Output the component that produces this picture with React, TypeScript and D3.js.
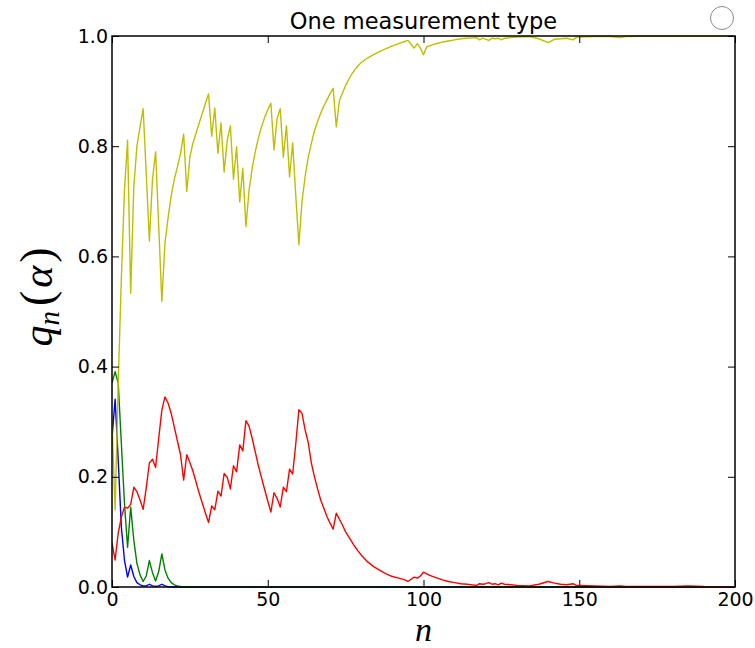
import React, { useEffect, useRef } from 'react'
import * as d3 from 'd3'

// [n, q] pairs
const yellowSeries: [number, number][] = [
  [0, 0.3], [1, 0.14], [2, 0.37], [3, 0.56], [4, 0.72], [5, 0.811], [6, 0.533], [7, 0.726],
  [8, 0.8], [9, 0.835], [10, 0.868], [11, 0.75], [12, 0.628], [13, 0.74], [14, 0.79], [15, 0.655],
  [16, 0.518], [17, 0.624], [18, 0.67], [19, 0.71], [20, 0.74], [21, 0.762], [22, 0.787], [23, 0.822],
  [24, 0.718], [25, 0.78], [26, 0.806], [27, 0.824], [28, 0.842], [29, 0.86], [30, 0.878], [31, 0.895],
  [32, 0.818], [33, 0.869], [34, 0.787], [35, 0.842], [36, 0.753], [37, 0.811], [38, 0.837], [39, 0.74],
  [40, 0.799], [41, 0.699], [42, 0.76], [43, 0.654], [44, 0.72], [45, 0.76], [46, 0.79], [47, 0.815],
  [48, 0.835], [49, 0.852], [50, 0.866], [51, 0.878], [52, 0.793], [53, 0.85], [54, 0.868], [55, 0.78],
  [56, 0.837], [57, 0.744], [58, 0.806], [59, 0.71], [60, 0.621], [61, 0.7], [62, 0.745], [63, 0.78],
  [64, 0.805], [65, 0.828], [66, 0.845], [67, 0.86], [68, 0.873], [69, 0.884], [70, 0.895], [71, 0.905],
  [72, 0.835], [73, 0.883], [74, 0.897], [75, 0.91], [76, 0.921], [77, 0.931], [78, 0.939], [79, 0.946],
  [80, 0.952], [82, 0.96], [84, 0.966], [86, 0.972], [88, 0.977], [90, 0.982], [92, 0.986], [94, 0.99],
  [95, 0.992], [96, 0.985], [97, 0.978], [98, 0.986], [99, 0.978], [100, 0.966], [101, 0.98], [102, 0.982],
  [104, 0.986], [106, 0.989], [108, 0.991], [110, 0.993], [112, 0.995], [114, 0.996], [117, 0.997],
  [118, 0.993], [119, 0.996], [120, 0.994], [121, 0.992], [122, 0.996], [123, 0.995], [124, 0.996],
  [125, 0.993], [126, 0.996], [128, 0.997], [130, 0.998], [134, 0.999], [137, 0.995], [140, 0.988],
  [142, 0.994], [144, 0.995], [146, 0.996], [148, 0.993], [149, 0.997], [150, 0.998], [155, 0.999],
  [160, 0.999], [163, 0.997], [165, 0.999], [170, 0.9995], [180, 0.9995], [200, 0.9997],
]

const redSeries: [number, number][] = [
  [0, 0.08], [1, 0.049], [2, 0.098], [3, 0.127], [4, 0.145], [5, 0.143], [6, 0.15], [7, 0.181],
  [8, 0.173], [9, 0.158], [10, 0.141], [11, 0.18], [12, 0.225], [13, 0.232], [14, 0.217], [15, 0.27],
  [16, 0.321], [17, 0.345], [18, 0.334], [19, 0.315], [20, 0.29], [21, 0.265], [22, 0.24], [23, 0.194],
  [24, 0.24], [25, 0.226], [26, 0.21], [27, 0.19], [28, 0.17], [29, 0.152], [30, 0.134], [31, 0.117],
  [32, 0.147], [33, 0.14], [34, 0.174], [35, 0.165], [36, 0.206], [37, 0.199], [38, 0.178], [39, 0.22],
  [40, 0.209], [41, 0.258], [42, 0.247], [43, 0.302], [44, 0.292], [45, 0.27], [46, 0.245], [47, 0.22],
  [48, 0.198], [49, 0.177], [50, 0.156], [51, 0.136], [52, 0.171], [53, 0.161], [54, 0.145], [55, 0.181],
  [56, 0.173], [57, 0.214], [58, 0.205], [59, 0.26], [60, 0.322], [61, 0.315], [62, 0.285], [63, 0.262],
  [64, 0.225], [65, 0.2], [66, 0.178], [67, 0.158], [68, 0.143], [69, 0.128], [70, 0.116], [71, 0.105],
  [72, 0.134], [73, 0.123], [74, 0.112], [75, 0.1], [76, 0.091], [77, 0.082], [78, 0.073], [79, 0.065],
  [80, 0.058], [82, 0.046], [84, 0.037], [86, 0.03], [88, 0.024], [90, 0.019], [92, 0.016], [94, 0.013],
  [95, 0.01], [96, 0.014], [97, 0.018], [98, 0.016], [99, 0.02], [100, 0.027], [101, 0.024], [102, 0.021],
  [104, 0.017], [106, 0.013], [108, 0.01], [110, 0.008], [112, 0.006], [114, 0.005], [117, 0.003],
  [118, 0.006], [119, 0.005], [120, 0.006], [121, 0.008], [122, 0.005], [123, 0.006], [124, 0.004],
  [125, 0.007], [126, 0.005], [128, 0.004], [130, 0.003], [134, 0.002], [137, 0.005], [140, 0.01],
  [142, 0.007], [144, 0.005], [146, 0.004], [148, 0.006], [149, 0.003], [150, 0.003], [155, 0.002],
  [160, 0.001], [163, 0.002], [165, 0.001], [170, 0.001], [180, 0.001], [185, 0.002], [190, 0.001],
  [200, 0.0005],
]

const greenSeries: [number, number][] = [
  [0, 0.37], [1, 0.391], [2, 0.37], [3, 0.261], [4, 0.152], [5, 0.072], [6, 0.145], [7, 0.085],
  [8, 0.043], [9, 0.022], [10, 0.01], [11, 0.02], [12, 0.048], [13, 0.026], [14, 0.011], [15, 0.028],
  [16, 0.06], [17, 0.031], [18, 0.016], [19, 0.008], [20, 0.004], [21, 0.002], [22, 0.001], [24, 0],
  [200, 0],
]

const blueSeries: [number, number][] = [
  [0, 0.27], [1, 0.341], [2, 0.23], [3, 0.109], [4, 0.049], [5, 0.018], [6, 0.04], [7, 0.019],
  [8, 0.008], [9, 0.004], [10, 0.002], [11, 0.002], [12, 0.005], [13, 0.002], [14, 0.001], [15, 0.002],
  [16, 0.005], [17, 0.002], [18, 0.0005], [20, 0], [200, 0],
]

const nTicks = [0, 50, 100, 150, 200]
const qTicks = [0, 0.2, 0.4, 0.6, 0.8, 1.0]

const App = () => {
  const chartRef = useRef<SVGSVGElement>(null)

  useEffect(() => {
    if (!chartRef.current) return
    document.body.style.margin = '0'

    const svg = d3.select(chartRef.current)
    svg.selectAll('*').remove()

    const left = 112
    const right = 735
    const top = 36
    const bottom = 587

    const x = d3.scaleLinear().domain([0, 200]).range([left, right])
    const y = d3.scaleLinear().domain([0, 1]).range([bottom, top])

    svg.append('rect').attr('width', 755).attr('height', 648).attr('fill', '#fff')

    svg.append('clipPath').attr('id', 'plot-clip')
      .append('rect')
      .attr('x', left).attr('y', top - 1)
      .attr('width', right - left).attr('height', bottom - top + 2)

    const line = d3.line<[number, number]>()
      .x((d) => x(d[0]))
      .y((d) => y(d[1]))

    const series = [
      { data: blueSeries, color: '#0000ff' },
      { data: greenSeries, color: '#008000' },
      { data: redSeries, color: '#ff0000' },
      { data: yellowSeries, color: '#bfbf00' },
    ]

    const lines = svg.append('g').attr('clip-path', 'url(#plot-clip)')
    series.forEach((s) => {
      lines.append('path')
        .datum(s.data)
        .attr('d', line)
        .attr('fill', 'none')
        .attr('stroke', s.color)
        .attr('stroke-width', 1.4)
        .attr('stroke-linejoin', 'round')
    })

    // ticks point inward on all four sides
    const fontFamily = '"DejaVu Sans", sans-serif'
    const styleAxis = (g: d3.Selection<SVGGElement, unknown, null, undefined>) => {
      g.select('.domain').remove()
      g.selectAll('line').attr('stroke', '#000').attr('stroke-width', 1)
      g.selectAll('text').attr('font-family', fontFamily).attr('font-size', 19).attr('fill', '#000')
    }

    svg.append('g')
      .attr('transform', `translate(0,${bottom})`)
      .call(d3.axisBottom(x).tickValues(nTicks).tickSize(-7).tickPadding(6).tickFormat(d3.format('d')))
      .call(styleAxis)

    svg.append('g')
      .attr('transform', `translate(0,${top})`)
      .call(d3.axisTop(x).tickValues(nTicks).tickSize(-7).tickFormat(() => ''))
      .call(styleAxis)

    svg.append('g')
      .attr('transform', `translate(${left},0)`)
      .call(d3.axisLeft(y).tickValues(qTicks).tickSize(-7).tickPadding(4).tickFormat(d3.format('.1f')))
      .call(styleAxis)

    svg.append('g')
      .attr('transform', `translate(${right},0)`)
      .call(d3.axisRight(y).tickValues(qTicks).tickSize(-7).tickFormat(() => ''))
      .call(styleAxis)

    // frame
    svg.append('rect')
      .attr('x', left).attr('y', top)
      .attr('width', right - left).attr('height', bottom - top)
      .attr('fill', 'none')
      .attr('stroke', '#000')
      .attr('stroke-width', 1.5)

    svg.append('text')
      .attr('x', (left + right) / 2)
      .attr('y', 29)
      .attr('text-anchor', 'middle')
      .attr('font-family', fontFamily)
      .attr('font-size', 22.5)
      .text('One measurement type')

    // axis labels in a math-like italic serif
    svg.append('text')
      .attr('x', (left + right) / 2)
      .attr('y', 641)
      .attr('text-anchor', 'middle')
      .attr('font-family', '"Liberation Serif", serif')
      .attr('font-style', 'italic')
      .attr('font-size', 34)
      .text('n')

    const yLabel = svg.append('text')
      .attr('transform', `translate(52,297) rotate(-90)`)
      .attr('text-anchor', 'middle')
      .attr('font-family', '"Liberation Serif", serif')
      .attr('font-size', 42)
    yLabel.append('tspan').attr('font-style', 'italic').text('q')
    yLabel.append('tspan').attr('font-style', 'italic').attr('font-size', 29).attr('dy', 7).text('n')
    yLabel.append('tspan').attr('dy', -7).attr('dx', 5).attr('font-size', 46).text('(')
    yLabel.append('tspan').attr('font-style', 'italic').attr('dx', 3).text('α')
    yLabel.append('tspan').attr('dx', 3).attr('font-size', 46).text(')')

    svg.append('circle')
      .attr('cx', 722).attr('cy', 18).attr('r', 11.5)
      .attr('fill', 'none')
      .attr('stroke', '#8a8a8a')
      .attr('stroke-width', 1)
  }, [])

  return <svg ref={chartRef} width={755} height={648} style={{ display: 'block' }} />
}

export default App
